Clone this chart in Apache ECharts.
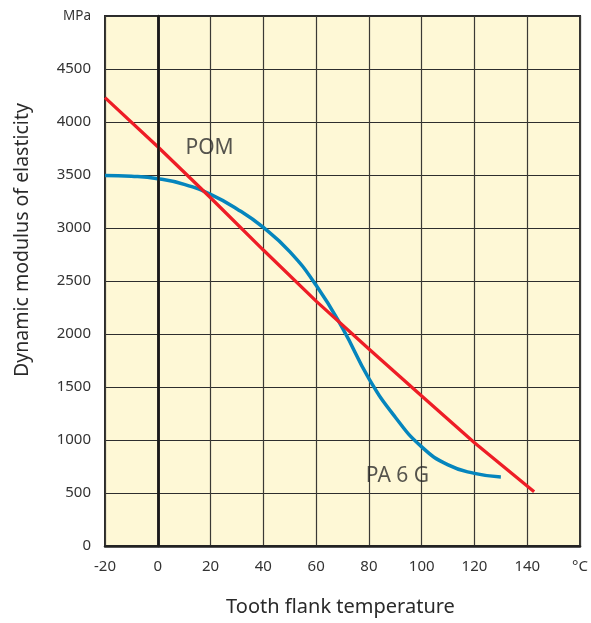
<!DOCTYPE html>
<html>
<head>
<meta charset="utf-8">
<script src="https://cdn.jsdelivr.net/npm/echarts@6/dist/echarts.min.js"></script>
<style>
html,body{margin:0;padding:0;background:#fff;}
#c{width:591px;height:623px;}
</style>
</head>
<body>
<div id="c"></div>
<script>
// Data
const paTemps = [-20, -10, 0, 10, 20, 30, 40, 50, 60, 70, 80, 90, 100, 110, 120, 130];
const paValues = [3495, 3488, 3465, 3412, 3318, 3180, 3005, 2777, 2460, 2055, 1580, 1215, 935, 765, 685, 650];
const pomTemps = [-20, 0, 20, 40, 60, 80, 100, 120, 142.6];
const pomValues = [4230, 3767, 3285, 2792, 2310, 1858, 1415, 975, 512];
const xTicks = [-20, 0, 20, 40, 60, 80, 100, 120, 140, 160];
const yTicks = [0, 500, 1000, 1500, 2000, 2500, 3000, 3500, 4000, 4500, 5000];
const xUnit = '°C';
const yUnit = 'MPa';
const seriesLabels = [
  { name: 'POM', x: 19.6, y: 3755 },
  { name: 'PA 6 G', x: 90.8, y: 660 }
];

const FONT = '"Noto Sans", "Open Sans", sans-serif';
const chart = echarts.init(document.getElementById('c'), null, { renderer: 'canvas' });

chart.setOption({
  animation: false,
  backgroundColor: '#ffffff',
  grid: {
    left: 105, top: 16, width: 477, height: 530,
    show: true, backgroundColor: '#fef8d6', borderColor: '#2a2a2a', borderWidth: 2
  },
  xAxis: {
    type: 'value', min: xTicks[0], max: xTicks[xTicks.length - 1], interval: 20,
    axisLine: { show: true, lineStyle: { color: '#222', width: 2.5 } },
    axisTick: { show: false },
    splitLine: { show: true, lineStyle: { color: '#3b3a35', width: 1.2 } },
    axisLabel: {
      margin: 13, color: '#333', fontFamily: FONT, fontSize: 15,
      formatter: v => (v === xTicks[xTicks.length - 1] ? xUnit : String(v))
    }
  },
  yAxis: {
    type: 'value', min: yTicks[0], max: yTicks[yTicks.length - 1], interval: 500,
    axisLine: { show: true, lineStyle: { color: '#222', width: 2.5 } },
    axisTick: { show: false },
    splitLine: { show: true, lineStyle: { color: '#2e2e2e', width: 1.2 } },
    axisLabel: {
      margin: 14, color: '#333', fontFamily: FONT, fontSize: 15,
      formatter: v => (v === yTicks[yTicks.length - 1] ? '{u|' + yUnit + '}' : String(v)),
      rich: { u: { fontSize: 13.5, color: '#333', fontFamily: FONT } }
    }
  },
  graphic: [
    {
      type: 'text', x: 340.5, y: 607,
      style: { text: 'Tooth flank temperature', fill: '#2a2a2a', font: '20px ' + FONT, align: 'center', verticalAlign: 'middle' }
    },
    {
      type: 'text', x: 22, y: 240, rotation: Math.PI / 2,
      style: { text: 'Dynamic modulus of elasticity', fill: '#2a2a2a', font: '19.5px ' + FONT, align: 'center', verticalAlign: 'middle' }
    }
  ],
  series: [
    {
      name: 'PA 6 G', type: 'line', smooth: 0.5, showSymbol: false, symbol: 'none',
      lineStyle: { color: '#0585bd', width: 3.5 },
      data: paTemps.map((t, i) => [t, paValues[i]]),
      z: 3,
      markLine: {
        silent: true, symbol: 'none', label: { show: false },
        lineStyle: { color: '#1a1a1a', width: 2.5, type: 'solid' },
        data: [{ xAxis: 0 }]
      }
    },
    {
      name: 'POM', type: 'line', smooth: false, showSymbol: false, symbol: 'none',
      lineStyle: { color: '#ee1d26', width: 3.3 },
      data: pomTemps.map((t, i) => [t, pomValues[i]]),
      z: 4
    },
    {
      name: 'labels', type: 'scatter', symbolSize: 0, silent: true,
      data: seriesLabels.map(l => ({ name: l.name, value: [l.x, l.y] })),
      label: {
        show: true, position: 'inside', formatter: p => p.name,
        color: '#2a2a2a', fontFamily: FONT, fontSize: 21
      },
      z: 5
    }
  ]
});
</script>
</body>
</html>
